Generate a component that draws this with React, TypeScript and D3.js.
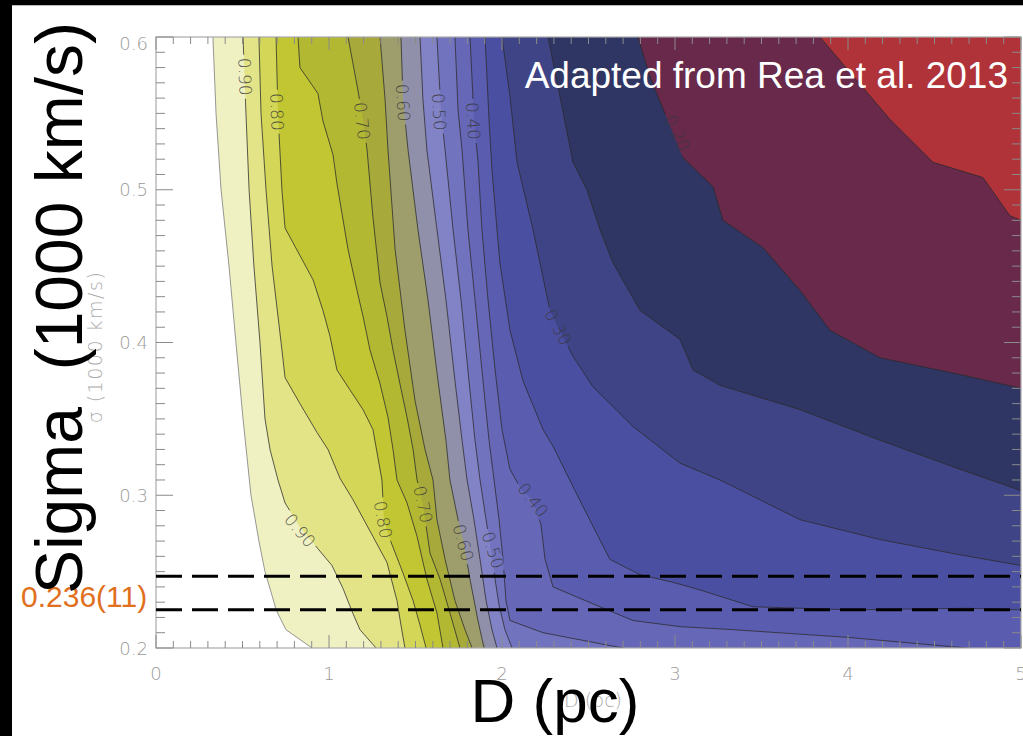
import React from "react";
import * as d3 from "d3";

type P = [number, number];

// axes
const D_DOMAIN: [number, number] = [0, 5];
const SIGMA_DOMAIN: [number, number] = [0.2, 0.6];
const X_TICKS = [0, 1, 2, 3, 4, 5];
const Y_TICKS = [0.2, 0.3, 0.4, 0.5, 0.6];

// measured sigma and its error
const SIGMA_MEASURED = 0.236;
const SIGMA_ERR = 0.011;

// contour levels (values) and colour of the band just below each level
const LEVELS = [0.95, 0.9, 0.85, 0.8, 0.75, 0.7, 0.65, 0.6, 0.55, 0.5, 0.45, 0.4, 0.35, 0.3, 0.25, 0.2, 0.15];
const BAND_COLORS = [
  "#f0f1c3", "#e3e388", "#d3d656", "#c2c632", "#b3b833", "#a7a93a", "#9d9e6c", "#9090aa",
  "#8282c6", "#7273bf", "#6667b7", "#5a5caf", "#4b4fa2", "#3f4486", "#303664", "#68294b", "#b03339",
];

// contour lines [D (pc), sigma (1000 km/s)]
const C095: P[] = [[0.329,0.600],[0.347,0.550],[0.376,0.500],[0.422,0.450],[0.462,0.400],[0.503,0.350],[0.549,0.300],[0.595,0.270],[0.630,0.250],[0.682,0.230],[0.694,0.225],[0.751,0.212],[0.902,0.200]];
const C090: P[] = [[0.503,0.600],[0.520,0.550],[0.538,0.500],[0.566,0.450],[0.601,0.400],[0.630,0.350],[0.659,0.330],[0.705,0.310],[0.746,0.295],[0.832,0.279],[0.936,0.265],[1.017,0.254],[1.081,0.239],[1.133,0.224],[1.179,0.212],[1.272,0.200]];
const C085: P[] = [[0.595,0.600],[0.607,0.550],[0.636,0.500],[0.671,0.450],[0.723,0.400],[0.746,0.377],[0.832,0.360],[0.931,0.341],[0.994,0.330],[1.064,0.311],[1.139,0.297],[1.254,0.273],[1.335,0.256],[1.393,0.231],[1.416,0.215],[1.439,0.200]];
const C080: P[] = [[0.694,0.600],[0.705,0.550],[0.728,0.500],[0.746,0.475],[0.908,0.441],[0.965,0.421],[1.006,0.404],[1.046,0.382],[1.121,0.369],[1.197,0.356],[1.254,0.343],[1.306,0.310],[1.318,0.284],[1.353,0.271],[1.428,0.249],[1.486,0.231],[1.526,0.215],[1.561,0.200]];
const C075: P[] = [[0.821,0.600],[0.832,0.580],[0.936,0.563],[0.965,0.545],[1.023,0.523],[1.046,0.504],[1.110,0.461],[1.162,0.434],[1.197,0.417],[1.237,0.395],[1.295,0.373],[1.341,0.351],[1.370,0.330],[1.393,0.310],[1.451,0.295],[1.509,0.273],[1.566,0.245],[1.624,0.223],[1.659,0.200]];
const C070: P[] = [[1.110,0.600],[1.156,0.572],[1.197,0.546],[1.220,0.526],[1.254,0.482],[1.295,0.439],[1.335,0.417],[1.370,0.395],[1.410,0.373],[1.451,0.351],[1.486,0.330],[1.509,0.310],[1.543,0.294],[1.584,0.262],[1.642,0.245],[1.699,0.223],[1.757,0.200]];
const C065: P[] = [[1.295,0.600],[1.324,0.559],[1.341,0.526],[1.382,0.461],[1.439,0.408],[1.497,0.362],[1.555,0.330],[1.601,0.310],[1.624,0.284],[1.671,0.258],[1.728,0.231],[1.786,0.212],[1.827,0.200]];
const C060: P[] = [[1.416,0.600],[1.428,0.559],[1.457,0.526],[1.514,0.474],[1.572,0.428],[1.630,0.375],[1.676,0.336],[1.699,0.310],[1.746,0.284],[1.775,0.271],[1.815,0.245],[1.861,0.218],[1.896,0.200]];
const C055: P[] = [[1.526,0.600],[1.543,0.559],[1.566,0.526],[1.624,0.474],[1.676,0.428],[1.728,0.375],[1.769,0.336],[1.798,0.310],[1.838,0.284],[1.873,0.258],[1.908,0.231],[1.942,0.212],[1.971,0.200]];
const C050: P[] = [[1.624,0.600],[1.647,0.552],[1.671,0.526],[1.717,0.474],[1.763,0.428],[1.809,0.375],[1.844,0.336],[1.873,0.310],[1.908,0.284],[1.936,0.264],[1.960,0.245],[1.983,0.228],[2.017,0.212],[2.058,0.200]];
const C045: P[] = [[1.728,0.600],[1.746,0.552],[1.769,0.526],[1.803,0.474],[1.844,0.428],[1.890,0.375],[1.925,0.336],[1.954,0.310],[1.983,0.284],[2.006,0.258],[2.023,0.231],[2.046,0.218],[2.237,0.210],[2.699,0.200]];
const C040: P[] = [[1.815,0.600],[1.838,0.546],[1.861,0.519],[1.884,0.474],[1.919,0.428],[1.960,0.382],[2.000,0.343],[2.046,0.317],[2.116,0.303],[2.179,0.297],[2.225,0.281],[2.249,0.258],[2.295,0.240],[2.566,0.227],[2.757,0.218],[3.029,0.214],[3.335,0.212],[3.994,0.207],[4.688,0.200]];
const C035: P[] = [[1.902,0.600],[1.925,0.546],[1.942,0.513],[1.971,0.474],[1.988,0.452],[2.046,0.408],[2.121,0.375],[2.237,0.343],[2.295,0.332],[2.422,0.303],[2.538,0.277],[2.624,0.258],[2.798,0.248],[2.988,0.243],[3.145,0.238],[3.451,0.227],[4.012,0.225],[4.688,0.226],[5.0,0.225]];
const C030: P[] = [[2.000,0.600],[2.046,0.561],[2.087,0.518],[2.179,0.474],[2.277,0.421],[2.324,0.410],[2.410,0.391],[2.526,0.371],[2.757,0.345],[3.029,0.321],[3.260,0.310],[3.723,0.284],[4.185,0.271],[4.647,0.261],[5.0,0.254]];
const C025: P[] = [[2.266,0.600],[2.335,0.561],[2.410,0.518],[2.491,0.500],[2.566,0.474],[2.642,0.452],[2.798,0.421],[3.029,0.402],[3.104,0.382],[3.260,0.372],[3.723,0.356],[4.185,0.336],[4.647,0.317],[5.0,0.303]];
const C020: P[] = [[2.786,0.600],[2.855,0.574],[3.046,0.521],[3.220,0.502],[3.277,0.480],[3.509,0.462],[3.723,0.434],[3.896,0.408],[4.185,0.390],[4.647,0.379],[5.0,0.370]];
const C015: P[] = [[3.838,0.600],[4.243,0.546],[4.491,0.518],[4.780,0.508],[4.936,0.483],[5.0,0.480]];

const CONTOURS: P[][] = [C095, C090, C085, C080, C075, C070, C065, C060, C055, C050, C045, C040, C035, C030, C025, C020, C015];

// contour labels: text, D, sigma, angle (deg)
const LABEL_TEXT = ["0.90", "0.80", "0.70", "0.60", "0.50", "0.40", "0.20", "0.90", "0.80", "0.70", "0.60", "0.50", "0.40", "0.30"];
const LABEL_D = [0.514, 0.699, 1.191, 1.428, 1.636, 1.832, 3.012, 0.832, 1.312, 1.543, 1.775, 1.948, 2.179, 2.324];
const LABEL_SIGMA = [0.574, 0.551, 0.545, 0.557, 0.551, 0.545, 0.537, 0.277, 0.284, 0.294, 0.269, 0.264, 0.297, 0.410];
const LABEL_ANGLE = [88, 88, 84, 86, 86, 86, 65, 50, 80, 78, 75, 72, 52, 62];

const SANS = "'Liberation Sans', Arial, Helvetica, sans-serif";
const THIN = "'DejaVu Sans', 'Liberation Sans', sans-serif";

export default function App() {
  const x = d3.scaleLinear().domain(D_DOMAIN).range([156, 1021]);
  const y = d3.scaleLinear().domain(SIGMA_DOMAIN).range([648, 37]);
  const line = d3.line<P>().x((d) => x(d[0])).y((d) => y(d[1]));

  const region = (pts: P[]): string => {
    const r: P[] = pts.slice();
    const last = r[r.length - 1];
    if (last[0] < D_DOMAIN[1]) r.push([D_DOMAIN[1], SIGMA_DOMAIN[0]]);
    r.push([D_DOMAIN[1], SIGMA_DOMAIN[1]]);
    return (line(r) || "") + "Z";
  };

  const x0 = x(D_DOMAIN[0]), x1 = x(D_DOMAIN[1]);
  const y0 = y(SIGMA_DOMAIN[0]), y1 = y(SIGMA_DOMAIN[1]);

  const xMinor = x.ticks(50);
  const yMinor = y.ticks(40);
  const isMajorX = (v: number) => Math.abs(v - Math.round(v)) < 1e-6;
  const isMajorY = (v: number) => Math.abs(v * 10 - Math.round(v * 10)) < 1e-6;
  const tickColor = "#8a8a8a";

  return (
    <div style={{ position: "fixed", left: 0, top: 0 }}>
      <svg width={1023} height={736} viewBox="0 0 1023 736" style={{ display: "block" }}>
        <defs>
          <clipPath id="plotclip">
            <rect x={x0} y={y1} width={x1 - x0} height={y0 - y1} />
          </clipPath>
          <mask id="labelmask" maskUnits="userSpaceOnUse" x={0} y={0} width={1023} height={736}>
            <rect x={0} y={0} width={1023} height={736} fill="white" />
            {LABEL_TEXT.map((t, i) => (
              <rect
                key={i}
                x={-22}
                y={-7}
                width={44}
                height={14}
                fill="black"
                transform={`translate(${x(LABEL_D[i])},${y(LABEL_SIGMA[i])}) rotate(${LABEL_ANGLE[i]})`}
              />
            ))}
          </mask>
        </defs>

        {/* page background */}
        <rect x={0} y={0} width={1023} height={736} fill="#000" />
        <rect x={12} y={5} width={1011} height={731} fill="#fff" />
        <line x1={12} x2={1023} y1={5.5} y2={5.5} stroke="#bbb" strokeWidth={1} />

        {/* filled contours */}
        <g clipPath="url(#plotclip)">
          <rect x={x0} y={y1} width={x1 - x0} height={y0 - y1} fill="#fff" />
          {CONTOURS.map((pts, i) => (
            <path key={"f" + i} d={region(pts)} fill={BAND_COLORS[i]} stroke="none" />
          ))}
          <g mask="url(#labelmask)">
            {CONTOURS.map((pts, i) => (
              <path
                key={"l" + i}
                d={line(pts) || ""}
                fill="none"
                stroke={i === 0 ? "#777" : "#2a2a2a"}
                strokeWidth={0.9}
                strokeOpacity={0.85}
              />
            ))}
          </g>
          {LABEL_TEXT.map((t, i) => (
            <text
              key={"t" + i}
              transform={`translate(${x(LABEL_D[i])},${y(LABEL_SIGMA[i])}) rotate(${LABEL_ANGLE[i]})`}
              textAnchor="middle"
              dominantBaseline="central"
              fontFamily={THIN}
              fontWeight={200}
              fontSize={17}
              fill="#383838"
              fillOpacity={0.85}
            >
              {t}
            </text>
          ))}
        </g>

        {/* frame */}
        <rect x={x0} y={y1} width={x1 - x0} height={y0 - y1} fill="none" stroke="#aaa" strokeWidth={1.2} />

        {/* x ticks (bottom and top) */}
        {xMinor.map((v, i) => {
          const len = isMajorX(v) ? 13 : 7;
          return (
            <g key={"xt" + i} stroke={tickColor} strokeWidth={1}>
              <line x1={x(v)} x2={x(v)} y1={y0} y2={y0 - len} />
              <line x1={x(v)} x2={x(v)} y1={y1} y2={y1 + len} />
            </g>
          );
        })}
        {/* y ticks (left and right) */}
        {yMinor.map((v, i) => {
          const len = isMajorY(v) ? 17 : 9;
          return (
            <g key={"yt" + i} stroke={tickColor} strokeWidth={1}>
              <line x1={x0} x2={x0 + len} y1={y(v)} y2={y(v)} />
              <line x1={x1} x2={x1 - len} y1={y(v)} y2={y(v)} />
            </g>
          );
        })}

        {/* tick labels */}
        {X_TICKS.map((v) => (
          <text key={"xl" + v} x={x(v)} y={680} textAnchor="middle" fontFamily={THIN} fontWeight={200} fontSize={18} fill="#9a9a9a">
            {String(v)}
          </text>
        ))}
        {Y_TICKS.map((v) => (
          <text
            key={"yl" + v}
            x={148}
            y={y(v) + (v === 0.6 ? 6 : 0)}
            textAnchor="end"
            dominantBaseline="central"
            fontFamily={THIN}
            fontWeight={200}
            fontSize={18}
            fill="#9a9a9a"
          >
            {v.toFixed(1)}
          </text>
        ))}

        {/* small original axis titles */}
        <text x={593} y={707} textAnchor="middle" fontFamily={THIN} fontWeight={200} fontSize={19} fill="#aaa">
          D (pc)
        </text>
        <text
          transform={`translate(102,347) rotate(-90)`}
          textAnchor="middle"
          fontFamily={THIN}
          fontWeight={200}
          fontSize={19}
          fill="#aaa"
          letterSpacing={1.5}
        >
          σ (1000 km/s)
        </text>

        {/* measured sigma band */}
        {[SIGMA_MEASURED + SIGMA_ERR, SIGMA_MEASURED - SIGMA_ERR].map((s, i) => (
          <line
            key={"dl" + i}
            x1={x0}
            x2={x1}
            y1={y(s)}
            y2={y(s)}
            stroke="#000"
            strokeWidth={3}
            strokeDasharray="26 10"
          />
        ))}
        <text x={21} y={607} fontFamily={SANS} fontSize={30} fill="#e0701e">
          {`${SIGMA_MEASURED}(${Math.round(SIGMA_ERR * 1000)})`}
        </text>

        {/* big overlay titles */}
        <text
          transform={`translate(82,308) rotate(-90)`}
          textAnchor="middle"
          fontFamily={SANS}
          fontSize={66}
          fill="#000"
          style={{ whiteSpace: "pre" }}
        >
          {"Sigma  (1000 km/s)"}
        </text>
        <text x={555} y={722} textAnchor="middle" fontFamily={SANS} fontSize={62} fill="#000">
          D (pc)
        </text>
        <text x={1008} y={88} textAnchor="end" fontFamily={SANS} fontSize={37} fill="#fff">
          Adapted from Rea et al. 2013
        </text>
      </svg>
    </div>
  );
}
